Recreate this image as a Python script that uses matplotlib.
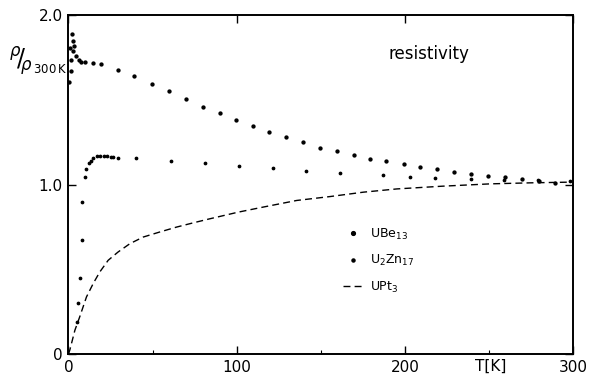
import matplotlib
matplotlib.use("Agg")
import matplotlib.pyplot as plt
from matplotlib.ticker import FixedLocator

# UBe13
ube_T = [0.2, 1.4, 1.4, 1.0, 2.0, 2.7, 3.2, 2.6, 4.3, 6.0, 7.7, 9.7, 14.3, 19.4, 29.5, 39, 49.8, 59.9, 69.8,
         79.8, 89.9, 99.8, 109.5, 119.2, 129.3, 139.7, 149.6, 159.5, 169.6, 179.5, 188.9,
         199.6, 209, 219, 229, 239.5, 249.4, 259.7, 269.6, 279.5, 289.5]
ube_r = [1.606, 1.667, 1.733, 1.808, 1.886, 1.847, 1.818, 1.788, 1.759, 1.737, 1.725, 1.72, 1.716, 1.71, 1.676, 1.639, 1.592, 1.553, 1.504,
         1.46, 1.424, 1.38, 1.347, 1.31, 1.278, 1.253, 1.214, 1.196, 1.176, 1.153, 1.137,
         1.12, 1.106, 1.092, 1.072, 1.063, 1.053, 1.043, 1.033, 1.018, 1.01]

# U2Zn17
uzn_T = [4.9, 5.9, 6.7, 7.9, 8.3, 9.7, 10.7, 11.9, 13.1, 14.6, 16.7, 19, 21, 23, 25, 26.5, 29.5, 39.9, 60.9,
         81, 101.4, 121.4, 141.3, 161.5, 187, 203, 218, 239, 259, 279, 298]
uzn_r = [0.186, 0.298, 0.451, 0.67, 0.896, 1.043, 1.092, 1.127, 1.141, 1.157, 1.166, 1.168, 1.168, 1.167, 1.165, 1.16, 1.157, 1.155, 1.137,
         1.125, 1.11, 1.096, 1.082, 1.069, 1.057, 1.047, 1.039, 1.033, 1.028, 1.024, 1.02]

# UPt3
upt_T = [0, 0.8, 3.8, 6.7, 10.7, 14.7, 18.6, 23.6, 29.5, 36.5, 44.4, 54.3, 64.3, 74.2, 84.1, 100.9,
         115.8, 135.7, 155.5, 175.4, 195.2, 222, 251, 275, 298]
upt_r = [0.0, 0.024, 0.14, 0.22, 0.337, 0.416, 0.484, 0.553, 0.602, 0.651, 0.69, 0.72, 0.749, 0.774, 0.798, 0.837,
         0.867, 0.906, 0.929, 0.955, 0.974, 0.99, 1.004, 1.01, 1.014]

x_major = [0, 100, 200, 300]
x_minor = [50, 150, 250]
x_labels = ["0", "100", "200", "300"]
y_major = [0, 1.0, 2.0]
y_labels = ["0", "1.0", "2.0"]

fig = plt.figure(figsize=(5.93, 3.76), dpi=100)
ax = fig.add_axes([0.1155, 0.0585, 0.851, 0.9015])

ax.plot(ube_T, ube_r, linestyle="none", marker="o", markersize=2.1, color="black", label="UBe$_{13}$")
ax.plot(uzn_T, uzn_r, linestyle="none", marker="o", markersize=1.7, color="black", label="U$_2$Zn$_{17}$")
ax.plot(upt_T, upt_r, linestyle=(0, (5, 3)), linewidth=1.0, color="black", label="UPt$_3$")

ax.set_xlim(0, 300)
ax.set_ylim(0, 2.0)
ax.xaxis.set_major_locator(FixedLocator(x_major))
ax.xaxis.set_minor_locator(FixedLocator(x_minor))
ax.set_xticklabels(x_labels)
ax.yaxis.set_major_locator(FixedLocator(y_major))
ax.set_yticklabels(y_labels)
ax.tick_params(axis="both", which="major", direction="in", length=6, width=1.0,
               top=True, right=True, labelsize=11, pad=4)
ax.tick_params(axis="x", which="minor", direction="in", length=3, width=0.8, top=False)
for s in ax.spines.values():
    s.set_linewidth(1.4)

ax.text(251, -0.03, "T[K]", ha="center", va="top", fontsize=11,
        transform=ax.transData)
ax.text(0.715, 0.885, "resistivity", transform=ax.transAxes, ha="center", va="center", fontsize=12)
fig.text(0.065, 0.835, r"$^{\rho}\!/\!_{\rho_{\,300\,\mathrm{K}}}$", ha="center", va="center", fontsize=17)

leg = ax.legend(loc="upper left", bbox_to_anchor=(0.535, 0.39), frameon=False, fontsize=9,
                handlelength=1.6, labelspacing=0.9, handletextpad=0.5, markerscale=1.3,
                borderaxespad=0.0)

fig.savefig("out.png", dpi=100)
